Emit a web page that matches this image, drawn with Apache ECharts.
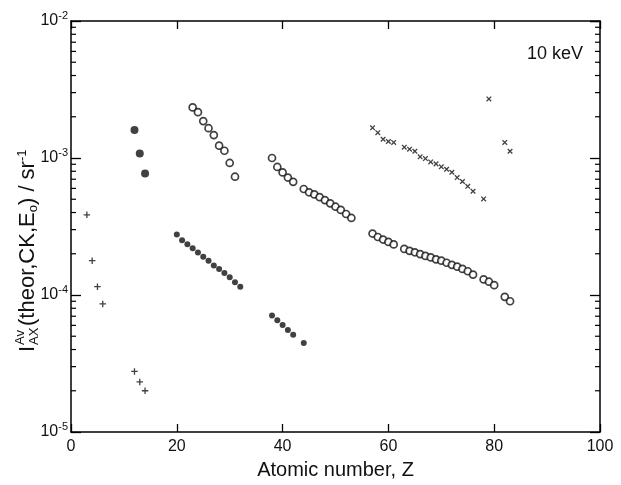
<!DOCTYPE html>
<html>
<head>
<meta charset="utf-8">
<script src="https://cdn.jsdelivr.net/npm/echarts@6/dist/echarts.min.js"></script>
<style>html,body{margin:0;padding:0;background:#fff;}#c{width:621px;height:485px;}</style>
</head>
<body>
<div id="c"></div>
<script>
// ---- data ----
// "+" markers
const plusZ = [3, 4, 5, 6, 12, 13, 14];
const plusV = [3.85e-4, 1.78e-4, 1.15e-4, 8.6e-5, 2.77e-5, 2.32e-5, 2.0e-5];
// large filled dots
const bigDotZ = [12, 13, 14];
const bigDotV = [1.6e-3, 1.08e-3, 7.7e-4];
// small filled dots
const dotZ = [20, 21, 22, 23, 24, 25, 26, 27, 28, 29, 30, 31, 32, 38, 39, 40, 41, 42, 44];
const dotV = [2.77e-4, 2.51e-4, 2.35e-4, 2.19e-4, 2.04e-4, 1.90e-4, 1.78e-4, 1.64e-4, 1.55e-4, 1.45e-4, 1.35e-4, 1.24e-4, 1.15e-4,
              7.1e-5, 6.54e-5, 6.04e-5, 5.56e-5, 5.12e-5, 4.47e-5];
// open circles
const ringZ = [23, 24, 25, 26, 27, 28, 29, 30, 31,
               38, 39, 40, 41, 42,
               44, 45, 46, 47, 48, 49, 50, 51, 52, 53,
               57, 58, 59, 60, 61,
               63, 64, 65, 66, 67, 68, 69, 70, 71, 72, 73, 74, 75, 76,
               78, 79, 80, 82, 83];
const ringV = [2.34e-3, 2.16e-3, 1.86e-3, 1.65e-3, 1.47e-3, 1.23e-3, 1.13e-3, 9.2e-4, 7.3e-4,
               1.0e-3, 8.6e-4, 7.85e-4, 7.2e-4, 6.7e-4,
               5.94e-4, 5.62e-4, 5.42e-4, 5.18e-4, 4.93e-4, 4.67e-4, 4.41e-4, 4.18e-4, 3.90e-4, 3.65e-4,
               2.81e-4, 2.65e-4, 2.54e-4, 2.44e-4, 2.34e-4,
               2.17e-4, 2.10e-4, 2.05e-4, 1.99e-4, 1.93e-4, 1.88e-4, 1.82e-4, 1.78e-4, 1.72e-4, 1.66e-4, 1.61e-4, 1.55e-4, 1.49e-4, 1.41e-4,
               1.30e-4, 1.25e-4, 1.18e-4, 9.7e-5, 9.0e-5];
// "x" markers
const crossZ = [57, 58, 59, 60, 61,
                63, 64, 65, 66, 67, 68, 69, 70, 71, 72, 73, 74, 75, 76,
                78, 79, 82, 83];
const crossV = [1.66e-3, 1.53e-3, 1.37e-3, 1.32e-3, 1.30e-3,
                1.20e-3, 1.16e-3, 1.12e-3, 1.02e-3, 9.9e-4, 9.36e-4, 9.06e-4, 8.62e-4, 8.28e-4, 7.87e-4, 7.2e-4, 6.74e-4, 6.21e-4, 5.72e-4,
                5.03e-4, 2.7e-3, 1.30e-3, 1.12e-3];
// axis ticks
const xTicks = [0, 20, 40, 60, 80, 100];
const yMinorTicks = [2e-5,3e-5,4e-5,5e-5,6e-5,7e-5,8e-5,9e-5,
                     2e-4,3e-4,4e-4,5e-4,6e-4,7e-4,8e-4,9e-4,
                     2e-3,3e-3,4e-3,5e-3,6e-3,7e-3,8e-3,9e-3];
const energyLabel = '10 keV';

// ---- chart ----
const FONT = 'Liberation Sans';
const INK = '#111';
const zip = (a, b) => a.map((v, i) => [v, b[i]]);
const PLUS = 'path://M0,4H10V6H0Z M4,0H6V10H4Z';

const axisLine = {onZero: false, lineStyle: {color: '#000', width: 1.5}};
const chart = echarts.init(document.getElementById('c'), null, {renderer: 'canvas'});
const option = {
  animation: false,
  backgroundColor: '#fff',
  grid: {left: 71, right: 21, top: 21, bottom: 43},
  xAxis: [{
    type: 'value', min: xTicks[0], max: xTicks[xTicks.length - 1], interval: 20,
    axisLine: axisLine,
    axisTick: {inside: true, length: 8, lineStyle: {color: '#000', width: 1.3}},
    axisLabel: {color: INK, fontSize: 16, fontFamily: FONT, margin: 7},
    splitLine: {show: false},
    name: 'Atomic number, Z', nameLocation: 'middle', nameGap: 28,
    nameTextStyle: {color: INK, fontSize: 20, fontFamily: FONT}
  }, {
    type: 'value', position: 'top', min: 0, max: 100, interval: 20,
    axisLine: axisLine,
    axisTick: {inside: true, length: 8, lineStyle: {color: '#000', width: 1.3}},
    axisLabel: {show: false}, splitLine: {show: false}
  }],
  yAxis: [{
    type: 'log', logBase: 10, min: 1e-5, max: 1e-2,
    axisLine: axisLine,
    axisTick: {inside: true, length: 10, lineStyle: {color: '#000', width: 1.3}},
    minorTick: {show: false},
    splitLine: {show: false},
    axisLabel: {
      margin: 3,
      formatter: v => '{b|10}{s|' + Math.round(Math.log10(v)) + '}',
      rich: {
        b: {fontSize: 16, fontFamily: FONT, color: INK},
        s: {fontSize: 11, fontFamily: FONT, color: INK, padding: [0, 0, 11, 0]}
      }
    }
  }, {
    type: 'log', logBase: 10, min: 1e-5, max: 1e-2, position: 'right',
    axisLine: axisLine,
    axisTick: {inside: true, length: 10, lineStyle: {color: '#000', width: 1.3}},
    axisLabel: {show: false}, splitLine: {show: false}
  }],
  graphic: [{
    type: 'text', right: 38, top: 45,
    style: {text: energyLabel, font: '18px "Liberation Sans"', fill: INK}
  }, {
    type: 'group', x: 28, y: 352, rotation: Math.PI / 2,
    children: [
      {type: 'text', x: 0, y: 0, style: {text: 'I', font: '22px "Liberation Sans"', fill: INK, verticalAlign: 'middle'}},
      {type: 'text', x: 7, y: -8, style: {text: 'Av', font: '13px "Liberation Sans"', fill: INK, verticalAlign: 'middle'}},
      {type: 'text', x: 7, y: 6, style: {text: 'AX', font: '13px "Liberation Sans"', fill: INK, verticalAlign: 'middle'}},
      {type: 'text', x: 26, y: 0, style: {
        text: '(theor,CK,E{o|o}) / sr{s|-1}', font: '22px "Liberation Sans"', fill: INK, verticalAlign: 'middle',
        rich: {
          o: {fontSize: 13, fontFamily: FONT, fill: INK, padding: [11, 0, 0, 0]},
          s: {fontSize: 13, fontFamily: FONT, fill: INK, padding: [0, 0, 12, 0]}
        }
      }}
    ]
  }],
  series: [
    {type: 'scatter', data: zip(plusZ, plusV), symbol: PLUS, symbolSize: 6.5, itemStyle: {color: '#111'}},
    {type: 'scatter', data: zip(bigDotZ, bigDotV), symbol: 'circle', symbolSize: 8, itemStyle: {color: '#111'}},
    {type: 'scatter', data: zip(dotZ, dotV), symbol: 'circle', symbolSize: 6, itemStyle: {color: '#111'}},
    {type: 'scatter', data: zip(ringZ, ringV), symbol: 'circle', symbolSize: 7,
     itemStyle: {color: '#fff', borderColor: '#111', borderWidth: 1.7}},
    {type: 'scatter', data: zip(crossZ, crossV), symbol: PLUS, symbolSize: 6.5, symbolRotate: 45, itemStyle: {color: '#111'}},
    {type: 'custom', silent: true, z: 1,
     data: yMinorTicks.map(v => [0, v]),
     renderItem: (params, api) => {
       const y = api.coord([0, api.value(1)])[1];
       const cs = params.coordSys;
       const st = {stroke: '#000', lineWidth: 1.2};
       return {type: 'group', children: [
         {type: 'line', shape: {x1: cs.x, y1: y, x2: cs.x + 5, y2: y}, style: st},
         {type: 'line', shape: {x1: cs.x + cs.width - 5, y1: y, x2: cs.x + cs.width, y2: y}, style: st}
       ]};
     }}
  ]
};
chart.setOption(option);
</script>
</body>
</html>
